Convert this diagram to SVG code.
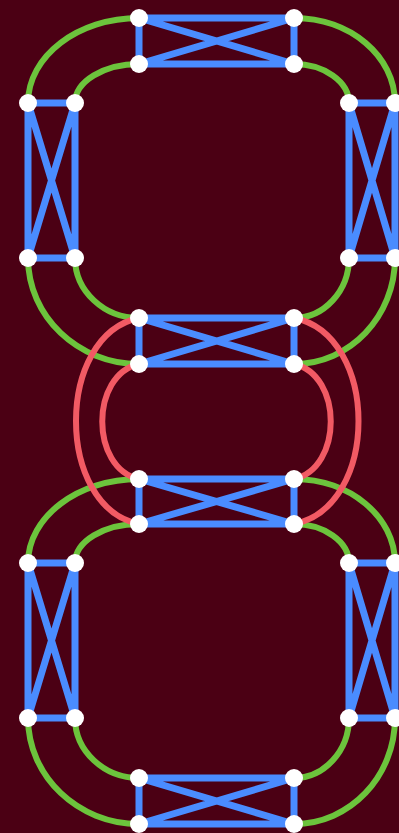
<svg xmlns="http://www.w3.org/2000/svg" width="399" height="833" viewBox="0 0 399 833">
<style>
.g{fill:none;stroke:#6cc43c;stroke-width:6}
.r{fill:none;stroke:#f25a64;stroke-width:6}
.b{fill:none;stroke:#4a8cff;stroke-width:7;stroke-linecap:round}
.n{fill:#ffffff}
</style>
<rect x="0" y="0" width="399" height="833" fill="#4b0014"/>
<g id="connectors">
<g id="green">
<path class="g" d="M139,18 C78,18 28,56 28,103"/>
<path class="g" d="M139,64 C104,64 75,81.5 75,103"/>
<path class="g" d="M294,18 C350,18 395,56 395,103"/>
<path class="g" d="M294,64 C324,64 349,81.5 349,103"/>
<path class="g" d="M28,258 C28,316.5 78,364 139,364"/>
<path class="g" d="M75,258 C75,291 104,318 139,318"/>
<path class="g" d="M395,258 C395,316.5 350,364 294,364"/>
<path class="g" d="M349,258 C349,291 324,318 294,318"/>
<path class="g" d="M139,479 C78,479 28,517 28,563"/>
<path class="g" d="M139,524 C104,524 75,541.5 75,563"/>
<path class="g" d="M294,479 C350,479 395,517 395,563"/>
<path class="g" d="M294,524 C324,524 349,541.5 349,563"/>
<path class="g" d="M28,718 C28,776.5 78,824 139,824"/>
<path class="g" d="M75,718 C75,751 104,778 139,778"/>
<path class="g" d="M395,718 C395,776.5 350,824 294,824"/>
<path class="g" d="M349,718 C349,751 324,778 294,778"/>
</g>
<g id="red">
<path class="r" d="M139,318 C55,335 55,507 139,524"/>
<path class="r" d="M139,364 C90,375 90,468 139,479"/>
<path class="r" d="M294,318 C380,335 380,507 294,524"/>
<path class="r" d="M294,364 C343,375 343,468 294,479"/>
</g>
<g id="blue">
<path class="b" d="M139,18 H294 V64 H139 Z M139,18 L294,64 M294,18 L139,64"/>
<path class="b" d="M28,103 H75 V258 H28 Z M28,103 L75,258 M75,103 L28,258"/>
<path class="b" d="M349,103 H395 V258 H349 Z M349,103 L395,258 M395,103 L349,258"/>
<path class="b" d="M139,318 H294 V364 H139 Z M139,318 L294,364 M294,318 L139,364"/>
<path class="b" d="M139,479 H294 V524 H139 Z M139,479 L294,524 M294,479 L139,524"/>
<path class="b" d="M28,563 H75 V718 H28 Z M28,563 L75,718 M75,563 L28,718"/>
<path class="b" d="M349,563 H395 V718 H349 Z M349,563 L395,718 M395,563 L349,718"/>
<path class="b" d="M139,778 H294 V824 H139 Z M139,778 L294,824 M294,778 L139,824"/>
</g>
</g>
<g id="nodes">
<g id="n1"><circle class="n" cx="139" cy="18" r="9"/></g>
<g id="n2"><circle class="n" cx="294" cy="18" r="9"/></g>
<g id="n3"><circle class="n" cx="139" cy="64" r="9"/></g>
<g id="n4"><circle class="n" cx="294" cy="64" r="9"/></g>
<g id="n5"><circle class="n" cx="28" cy="103" r="9"/></g>
<g id="n6"><circle class="n" cx="75" cy="103" r="9"/></g>
<g id="n7"><circle class="n" cx="28" cy="258" r="9"/></g>
<g id="n8"><circle class="n" cx="75" cy="258" r="9"/></g>
<g id="n9"><circle class="n" cx="349" cy="103" r="9"/></g>
<g id="n10"><circle class="n" cx="395" cy="103" r="9"/></g>
<g id="n11"><circle class="n" cx="349" cy="258" r="9"/></g>
<g id="n12"><circle class="n" cx="395" cy="258" r="9"/></g>
<g id="n13"><circle class="n" cx="139" cy="318" r="9"/></g>
<g id="n14"><circle class="n" cx="294" cy="318" r="9"/></g>
<g id="n15"><circle class="n" cx="139" cy="364" r="9"/></g>
<g id="n16"><circle class="n" cx="294" cy="364" r="9"/></g>
<g id="n17"><circle class="n" cx="139" cy="479" r="9"/></g>
<g id="n18"><circle class="n" cx="294" cy="479" r="9"/></g>
<g id="n19"><circle class="n" cx="139" cy="524" r="9"/></g>
<g id="n20"><circle class="n" cx="294" cy="524" r="9"/></g>
<g id="n21"><circle class="n" cx="28" cy="563" r="9"/></g>
<g id="n22"><circle class="n" cx="75" cy="563" r="9"/></g>
<g id="n23"><circle class="n" cx="28" cy="718" r="9"/></g>
<g id="n24"><circle class="n" cx="75" cy="718" r="9"/></g>
<g id="n25"><circle class="n" cx="349" cy="563" r="9"/></g>
<g id="n26"><circle class="n" cx="395" cy="563" r="9"/></g>
<g id="n27"><circle class="n" cx="349" cy="718" r="9"/></g>
<g id="n28"><circle class="n" cx="395" cy="718" r="9"/></g>
<g id="n29"><circle class="n" cx="139" cy="778" r="9"/></g>
<g id="n30"><circle class="n" cx="294" cy="778" r="9"/></g>
<g id="n31"><circle class="n" cx="139" cy="824" r="9"/></g>
<g id="n32"><circle class="n" cx="294" cy="824" r="9"/></g>
</g>
</svg>
